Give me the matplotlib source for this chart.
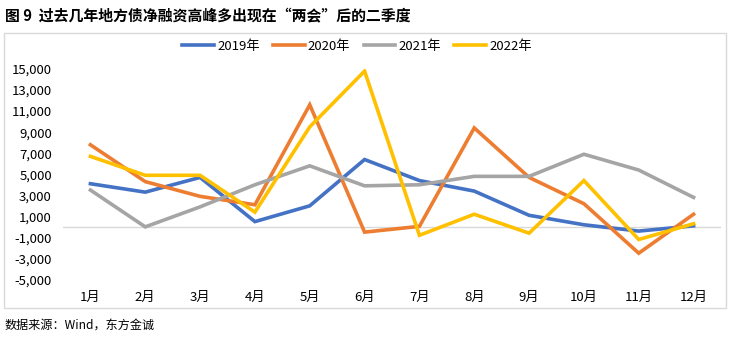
import matplotlib
matplotlib.use("Agg")
import matplotlib.pyplot as plt
from matplotlib.patches import Rectangle
from matplotlib.ticker import FuncFormatter

plt.rcParams['font.family'] = ['Noto Sans CJK SC', 'DejaVu Sans']

months = ["1月", "2月", "3月", "4月", "5月", "6月", "7月", "8月", "9月", "10月", "11月", "12月"]
y2019 = [4100, 3300, 4700, 500, 2000, 6400, 4400, 3400, 1100, 200, -400, 100]
y2020 = [7800, 4300, 2900, 2100, 11600, -500, 50, 9400, 4700, 2200, -2500, 1200]
y2021 = [3500, 0, 1900, 4000, 5800, 3900, 4000, 4800, 4800, 6900, 5400, 2800]
y2022 = [6700, 4900, 4900, 1400, 9500, 14800, -800, 1200, -600, 4400, -1200, 300]
series_names = ["2019年", "2020年", "2021年", "2022年"]
colors = ["#4472C4", "#ED7D31", "#A5A5A5", "#FFC000"]
yticks = list(range(-5000, 15001, 2000))

W, H = 736, 344
fig = plt.figure(figsize=(W / 100, H / 100), dpi=100)

# chart area border
fig.patches.append(Rectangle((4 / W, 1 - 308 / H), 722 / W, 275 / H, transform=fig.transFigure,
                             fill=False, edgecolor="#D9D9D9", linewidth=1.0))

ax = fig.add_axes([63 / W, 1 - 279.5 / H, 658 / W, 210.5 / H])
x = list(range(len(months)))
for data, name, c in zip([y2019, y2020, y2021, y2022], series_names, colors):
    ax.plot(x, data, color=c, linewidth=2.6, label=name, solid_joinstyle="miter")

ax.set_xlim(-0.5, 11.5)
ax.set_ylim(-5000, 15000)
ax.set_yticks(yticks)
ax.yaxis.set_major_formatter(FuncFormatter(lambda v, p: f"{int(v):,}"))
ax.set_xticks(x)
ax.set_xticklabels(months)
ax.axhline(0, color="#D9D9D9", linewidth=1.0, zorder=0)
for s in ax.spines.values():
    s.set_visible(False)
ax.tick_params(axis="both", length=0, labelsize=9.5, colors="#000000")
ax.tick_params(axis="y", pad=8)
ax.tick_params(axis="x", pad=8)

leg = fig.legend(loc="center", bbox_to_anchor=(357 / W, 1 - 46.5 / H), ncol=4, frameon=False,
                 fontsize=9.5, handlelength=2.4, columnspacing=1.0, handletextpad=0.25)

fig.text(5 / W, 1 - 16 / H, "图 9  过去几年地方债净融资高峰多出现在“两会”后的二季度",
         fontsize=10.7, fontweight="bold", va="center", ha="left")
fig.text(5 / W, 1 - 325 / H, "数据来源：Wind，东方金诚", fontsize=8.7, va="center", ha="left")

fig.savefig("out.png", dpi=100)
